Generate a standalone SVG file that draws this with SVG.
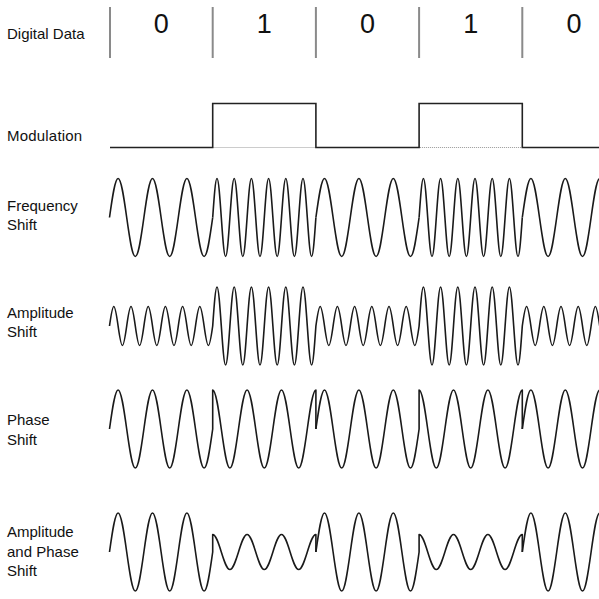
<svg xmlns="http://www.w3.org/2000/svg" xmlns:xlink="http://www.w3.org/1999/xlink" width="599" height="599" viewBox="0 0 599 599">
<style>
.lbl{font-family:"Liberation Sans",Arial,sans-serif;font-size:15px;fill:#111}
.dig{font-family:"Liberation Sans",Arial,sans-serif;font-size:27px;fill:#111;text-anchor:middle}
.tick{stroke:#8a8a8a;stroke-width:2;fill:none}
.mod{stroke:#222;stroke-width:1.6;fill:none}
.dot{stroke:#999;stroke-width:1;stroke-dasharray:1 1;fill:none}
.w{stroke:#1a1a1a;stroke-width:1.6;fill:none;stroke-linejoin:round}
</style>
<defs>
<path id="lo" class="w" d="M0,0c2.8,-19.98 5.49,-39 8.6,-39s5.8,19.02 8.6,39s5.49,39 8.6,39s5.8,-19.02 8.6,-39s5.49,-39 8.6,-39s5.8,19.02 8.6,39s5.49,39 8.6,39s5.8,-19.02 8.6,-39s5.49,-39 8.6,-39s5.8,19.02 8.6,39s5.49,39 8.6,39s5.8,-19.02 8.6,-39"/>
<path id="hi" class="w" d="M0,0c1.4,-19.98 2.74,-39 4.3,-39s2.9,19.02 4.3,39s2.74,39 4.3,39s2.9,-19.02 4.3,-39s2.74,-39 4.3,-39s2.9,19.02 4.3,39s2.74,39 4.3,39s2.9,-19.02 4.3,-39s2.74,-39 4.3,-39s2.9,19.02 4.3,39s2.74,39 4.3,39s2.9,-19.02 4.3,-39s2.74,-39 4.3,-39s2.9,19.02 4.3,39s2.74,39 4.3,39s2.9,-19.02 4.3,-39s2.74,-39 4.3,-39s2.9,19.02 4.3,39s2.74,39 4.3,39s2.9,-19.02 4.3,-39s2.74,-39 4.3,-39s2.9,19.02 4.3,39s2.74,39 4.3,39s2.9,-19.02 4.3,-39"/>
<path id="his" class="w" d="M0,0c1.4,-9.99 2.74,-19.5 4.3,-19.5s2.9,9.51 4.3,19.5s2.74,19.5 4.3,19.5s2.9,-9.51 4.3,-19.5s2.74,-19.5 4.3,-19.5s2.9,9.51 4.3,19.5s2.74,19.5 4.3,19.5s2.9,-9.51 4.3,-19.5s2.74,-19.5 4.3,-19.5s2.9,9.51 4.3,19.5s2.74,19.5 4.3,19.5s2.9,-9.51 4.3,-19.5s2.74,-19.5 4.3,-19.5s2.9,9.51 4.3,19.5s2.74,19.5 4.3,19.5s2.9,-9.51 4.3,-19.5s2.74,-19.5 4.3,-19.5s2.9,9.51 4.3,19.5s2.74,19.5 4.3,19.5s2.9,-9.51 4.3,-19.5s2.74,-19.5 4.3,-19.5s2.9,9.51 4.3,19.5s2.74,19.5 4.3,19.5s2.9,-9.51 4.3,-19.5"/>
<path id="coslo" class="w" d="M0,0v-39c3.11,0 5.8,19.02 8.6,39s5.49,39 8.6,39s5.8,-19.02 8.6,-39s5.49,-39 8.6,-39s5.8,19.02 8.6,39s5.49,39 8.6,39s5.8,-19.02 8.6,-39s5.49,-39 8.6,-39s5.8,19.02 8.6,39s5.49,39 8.6,39s5.8,-19.02 8.6,-39s5.49,-39 8.6,-39v39"/>
<path id="cossm" class="w" d="M0,0v-17.5c3.11,0 5.8,8.53 8.6,17.5s5.49,17.5 8.6,17.5s5.8,-8.53 8.6,-17.5s5.49,-17.5 8.6,-17.5s5.8,8.53 8.6,17.5s5.49,17.5 8.6,17.5s5.8,-8.53 8.6,-17.5s5.49,-17.5 8.6,-17.5s5.8,8.53 8.6,17.5s5.49,17.5 8.6,17.5s5.8,-8.53 8.6,-17.5s5.49,-17.5 8.6,-17.5v17.5"/>
</defs>

<g id="digital-data">
<text class="lbl" x="7" y="38.5">Digital Data</text>
<path class="tick" d="M110,7V58M212.7,7V58M315.9,7V58M419.1,7V58M522.3,7V58"/>
<text class="dig" x="161.3" y="33">0</text>
<text class="dig" x="264.3" y="33">1</text>
<text class="dig" x="367.5" y="33">0</text>
<text class="dig" x="470.7" y="33">1</text>
<text class="dig" x="573.9" y="33">0</text>
</g>

<g id="modulation">
<text class="lbl" x="7" y="141" letter-spacing="0.2">Modulation</text>
<path class="dot" d="M213.5,147.5H315.1M419.9,147.5H521.5"/>
<path class="mod" d="M110,147.5H212.7V103.5H315.9V147.5H419.1V103.5H522.3V147.5H599"/>
</g>

<g id="frequency-shift">
<text class="lbl" x="7" y="210.5">Frequency</text>
<text class="lbl" x="7" y="229.5">Shift</text>
<use xlink:href="#lo" x="109.5" y="217.5"/>
<use xlink:href="#hi" x="212.7" y="217.5"/>
<use xlink:href="#lo" x="315.9" y="217.5"/>
<use xlink:href="#hi" x="419.1" y="217.5"/>
<use xlink:href="#lo" x="522.3" y="217.5"/>
</g>

<g id="amplitude-shift">
<text class="lbl" x="7" y="318">Amplitude</text>
<text class="lbl" x="7" y="337">Shift</text>
<use xlink:href="#his" x="109.5" y="326"/>
<use xlink:href="#hi" x="212.7" y="326"/>
<use xlink:href="#his" x="315.9" y="326"/>
<use xlink:href="#hi" x="419.1" y="326"/>
<use xlink:href="#his" x="522.3" y="326"/>
</g>

<g id="phase-shift">
<text class="lbl" x="7" y="425">Phase</text>
<text class="lbl" x="7" y="444.5">Shift</text>
<use xlink:href="#lo" x="109.5" y="429"/>
<use xlink:href="#coslo" x="212.7" y="429"/>
<use xlink:href="#lo" x="315.9" y="429"/>
<use xlink:href="#coslo" x="419.1" y="429"/>
<use xlink:href="#lo" x="522.3" y="429"/>
</g>

<g id="amplitude-and-phase-shift">
<text class="lbl" x="7" y="537">Amplitude</text>
<text class="lbl" x="7" y="556.5">and Phase</text>
<text class="lbl" x="7" y="576">Shift</text>
<use xlink:href="#lo" x="109.5" y="552"/>
<use xlink:href="#cossm" x="212.7" y="552"/>
<use xlink:href="#lo" x="315.9" y="552"/>
<use xlink:href="#cossm" x="419.1" y="552"/>
<use xlink:href="#lo" x="522.3" y="552"/>
</g>
</svg>
